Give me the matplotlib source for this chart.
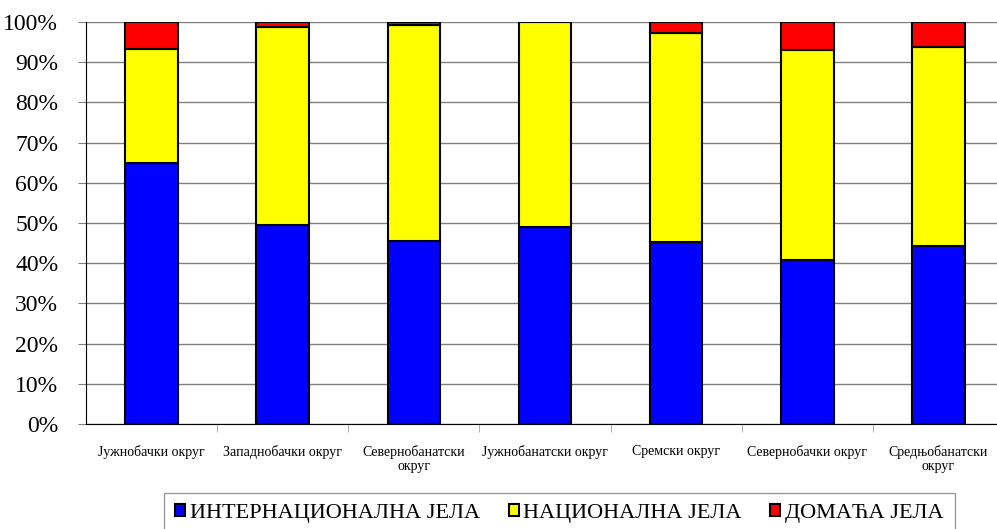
import numpy as np
import matplotlib
matplotlib.use("Agg")
import matplotlib.pyplot as plt
from matplotlib.ticker import FixedLocator

plt.rcParams['font.family'] = ['Liberation Serif', 'DejaVu Serif']

districts = ['Јужнобачки округ', 'Западнобачки округ', 'Севернобанатски\nокруг',
             'Јужнобанатски округ', 'Сремски округ', 'Севернобачки округ',
             'Средњобанатски\nокруг']
international = [65.0, 49.5, 45.5, 49.0, 45.3, 40.8, 44.3]
national = [28.3, 49.3, 53.7, 51.0, 52.0, 52.2, 49.6]
domestic = [6.7, 1.2, 0.8, 0.0, 2.7, 7.0, 6.1]
series_names = ['ИНТЕРНАЦИОНАЛНА ЈЕЛА', 'НАЦИОНАЛНА ЈЕЛА', 'ДОМАЋА ЈЕЛА']
colors = ['#0000ff', '#ffff00', '#ff0000']

fig = plt.figure(figsize=(9.97, 5.29), dpi=100)
ax = fig.add_axes([86 / 997, 1 - 424 / 529, 918 / 997, 402 / 529])

x = np.arange(len(districts))
bottom = np.zeros(len(districts))
for vals, name, c in zip([international, national, domestic], series_names, colors):
    vals = np.array(vals)
    ax.bar(x, vals, 0.4, bottom=bottom, color=c, edgecolor='black',
           linewidth=1.5, label=name, zorder=3)
    bottom += vals

ax.set_ylim(0, 100)
ax.set_xlim(-0.5, len(districts) - 0.5)
ax.set_yticks(np.arange(0, 101, 10))
ax.set_yticklabels(['%d%%' % v for v in range(0, 101, 10)], fontsize=17)
ax.yaxis.grid(True, color='#808080', linewidth=1, zorder=0)
ax.set_axisbelow(True)

ax.set_xticks(x)
ax.set_xticklabels(districts, fontsize=10, linespacing=1.15)
ax.tick_params(axis='x', length=0, pad=15)
ax.xaxis.set_minor_locator(FixedLocator(np.arange(0.5, len(districts) - 0.5, 1)))
ax.tick_params(axis='x', which='minor', length=6, color='#a0a0a0')
ax.tick_params(axis='y', length=6, color='#808080', pad=14)

for s in ['top', 'right']:
    ax.spines[s].set_visible(False)
ax.spines['left'].set_color('black')
ax.spines['bottom'].set_color('black')

leg = fig.legend(loc='upper left', bbox_to_anchor=(164 / 997, 1 - 493 / 529),
                 ncol=3, fontsize=16, frameon=True, fancybox=False,
                 handlelength=0.45, handleheight=0.45, handletextpad=0.2,
                 columnspacing=1.3, borderpad=0.5, borderaxespad=0)
leg.get_frame().set_edgecolor('#808080')
leg.get_frame().set_linewidth(1)

fig.savefig('out.png', dpi=100)
